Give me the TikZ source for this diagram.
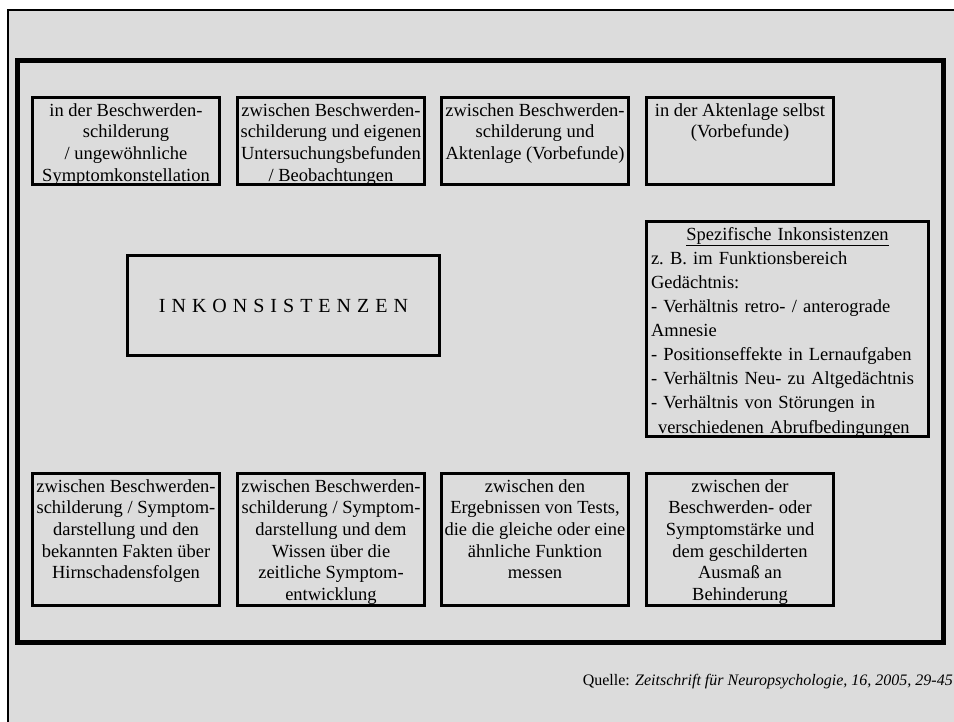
\documentclass[tikz,border=0pt]{standalone}
\usepackage{fontspec}
\setmainfont{Liberation Serif}
\newfontfamily\spacedfont[LetterSpace=30]{Liberation Serif}
\usetikzlibrary{positioning}
\definecolor{panel}{RGB}{220,220,220}

\begin{document}
\begin{tikzpicture}[
  x=1pt, y=1pt,
  cell/.style={draw, line width=3pt, minimum width=187pt, inner sep=0pt},
  toprow/.style={cell, minimum height=87pt},
  botrow/.style={cell, minimum height=132pt},
  txt/.style={align=center, inner sep=0pt, font=\fontsize{18.5}{21.7}\selectfont},
  frame/.style={line width=5pt}
]
\useasboundingbox (0,0) rectangle (954,-722);
\clip (0,0) rectangle (954,-722);
% background panels
\draw[line width=2pt, fill=panel] (8,-10) rectangle (970,-740);
\node[frame, draw, minimum width=926pt, minimum height=581pt, inner sep=0pt] (main) at (480,-351.5) {};
% upper row
\node[toprow] (u1) at (126,-141) {};
\node[toprow] (u2) at (331,-141) {};
\node[toprow] (u3) at (535,-141) {};
\node[toprow] (u4) at (740,-141) {};
\node[txt, below=7pt of u1.north] (u1t) {in der Beschwerden-\\schilderung\\/ ungewöhnliche\\Symptomkonstellation};
\node[txt, below=7pt of u2.north] (u2t) {zwischen Beschwerden-\\schilderung und eigenen\\Untersuchungsbefunden\\/ Beobachtungen};
\node[txt, below=7pt of u3.north] (u3t) {zwischen Beschwerden-\\schilderung und\\Aktenlage (Vorbefunde)};
\node[txt, below=7pt of u4.north] (u4t) {in der Aktenlage selbst\\(Vorbefunde)};
% centre
\node[cell, minimum width=312pt, minimum height=100pt] (ink) at (283.5,-305.5) {\fontsize{20}{24}\spacedfont INKONSISTENZEN};
\node[cell, minimum width=282pt, minimum height=215pt] (spez) at (787.5,-329) {};
\node[below=7pt of spez.north, inner sep=0pt, text width=273pt, align=left,
  font=\fontsize{18.5}{24.1}\selectfont] (spezt)
  {\makebox[\linewidth]{\underline{Spezifische Inkonsistenzen}}\\
   z.\ B. im Funktionsbereich\\
   Gedächtnis:\\
   - Verhältnis retro- / anterograde\\
   Amnesie\\
   - Positionseffekte in Lernaufgaben\\
   - Verhältnis Neu- zu Altgedächtnis\\
   - Verhältnis von Störungen in\\
   \hspace*{7pt}verschiedenen Abrufbedingungen};
% lower row
\node[botrow] (l1) at (126,-539.5) {};
\node[botrow] (l2) at (331,-539.5) {};
\node[botrow] (l3) at (535,-539.5) {};
\node[botrow] (l4) at (740,-539.5) {};
\node[txt, below=7pt of l1.north] (l1t) {zwischen Beschwerden-\\schilderung / Symptom-\\darstellung und den\\bekannten Fakten über\\Hirnschadensfolgen};
\node[txt, below=7pt of l2.north] (l2t) {zwischen Beschwerden-\\schilderung / Symptom-\\darstellung und dem\\Wissen über die\\zeitliche Symptom-\\entwicklung};
\node[txt, below=7pt of l3.north] (l3t) {zwischen den\\Ergebnissen von Tests,\\die die gleiche oder eine\\ähnliche Funktion\\messen};
\node[txt, below=7pt of l4.north] (l4t) {zwischen der\\Beschwerden- oder\\Symptomstärke und\\dem geschilderten\\Ausmaß an\\Behinderung};
% source
\node[anchor=base east, inner sep=0pt, font=\fontsize{16}{18}\selectfont] (quelle) at (953,-685)
  {Quelle: \textit{Zeitschrift für Neuropsychologie, 16, 2005, 29-45}};
\end{tikzpicture}
\end{document}
